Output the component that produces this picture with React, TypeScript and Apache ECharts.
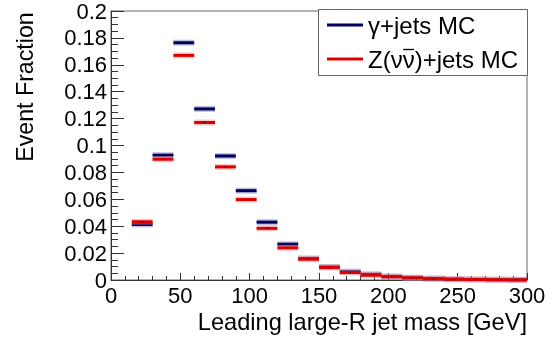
import React, { useEffect, useRef } from "react";
import * as echarts from "echarts";

const binEdges = [15, 30, 45, 60, 75, 90, 105, 120, 135, 150, 165, 180, 195, 210, 225, 240, 255, 270, 285, 300];
const gammaJets = [0.0413, 0.0928, 0.1764, 0.1272, 0.0922, 0.0664, 0.043, 0.0266, 0.016, 0.0096, 0.0062, 0.0042, 0.0026, 0.0017, 0.001, 0.0006, 0.0004, 0.0002, 0.0001];
const zvvJets = [0.0433, 0.0898, 0.167, 0.1171, 0.0841, 0.0598, 0.0384, 0.0239, 0.0155, 0.0094, 0.0056, 0.0036, 0.0024, 0.0016, 0.001, 0.0006, 0.0004, 0.0002, 0.0001];
const seriesNames = ["γ+jets MC", "Z(νν)+jets MC"];
const xTitle = "Leading large-R jet mass [GeV]";
const yTitle = "Event Fraction";

const FONT = "Liberation Sans, Arial, Helvetica, sans-serif";

function makeData(vals: number[]) {
  return vals.map((v, i) => [binEdges[i], binEdges[i + 1], v]);
}

function makeRender(color: string, band: string) {
  return (params: any, api: any) => {
    const x0 = api.value(0);
    const x1 = api.value(1);
    const v = api.value(2);
    const s = api.coord([x0, v]);
    const e = api.coord([x1, v]);
    const mid = (s[0] + e[0]) / 2;
    return {
      type: "group",
      children: [
        {
          type: "rect",
          shape: { x: s[0], y: s[1] - 3, width: e[0] - s[0], height: 6 },
          style: { fill: band, opacity: 0.45 },
        },
        {
          type: "line",
          shape: { x1: s[0], y1: s[1], x2: e[0], y2: e[1] },
          style: { stroke: color, lineWidth: 3 },
        },
        {
          type: "rect",
          shape: { x: mid - 0.5, y: s[1] - 0.5, width: 1, height: 1 },
          style: { fill: "#000" },
        },
      ],
    };
  };
}

function textWidth(t: string, size: number) {
  const c = document.createElement("canvas").getContext("2d");
  if (!c) return t.length * size * 0.55;
  c.font = `${size}px "Liberation Sans"`;
  return c.measureText(t).width;
}

export default function App() {
  const ref = useRef<HTMLDivElement>(null);
  useEffect(() => {
    if (!ref.current) return;
    const chart = echarts.init(ref.current, null, { renderer: "svg" });
    const blue = "#00005e";
    const red = "#dd0000";
    const legX = 327;
    const legTextX = 368;
    const legY = [25, 59];
    const legFont = 24;
    const ovStart = legTextX + textWidth("Z(ν", legFont);
    const ovEnd = legTextX + textWidth("Z(νν", legFont);
    chart.setOption({
      animation: false,
      textStyle: { fontFamily: FONT },
      grid: {
        left: 111,
        right: 29,
        top: 9,
        bottom: 65,
        show: true,
        borderColor: "#666",
        borderWidth: 1,
        backgroundColor: "transparent",
      },
      xAxis: {
        type: "value",
        min: 0,
        max: 300,
        interval: 50,
        axisLine: { show: true, onZero: false, lineStyle: { color: "#333", width: 1 } },
        axisTick: { show: true, inside: true, length: 7, lineStyle: { color: "#333" } },
        minorTick: { show: true, splitNumber: 5, length: 4, lineStyle: { color: "#333" } },
        splitLine: { show: false },
        axisLabel: { color: "#000", fontSize: 22, fontFamily: FONT, margin: 4, showMinLabel: true, showMaxLabel: true },
      },
      yAxis: {
        type: "value",
        min: 0,
        max: 0.2,
        interval: 0.02,
        axisLine: { show: true, onZero: false, lineStyle: { color: "#333", width: 1 } },
        axisTick: { show: true, inside: true, length: 13, lineStyle: { color: "#333" } },
        minorTick: { show: true, splitNumber: 4, length: 7, lineStyle: { color: "#333" } },
        splitLine: { show: false },
        axisLabel: {
          color: "#000",
          fontSize: 22,
          fontFamily: FONT,
          margin: 4,
          formatter: (v: number) => String(Number(v.toFixed(3))),
        },
      },
      graphic: [
        {
          type: "rect",
          z: 0,
          shape: { x: 318.5, y: 9.5, width: 209, height: 66 },
          style: { fill: "#fff", stroke: "#666", lineWidth: 1 },
        },
        {
          type: "line",
          shape: { x1: legX, y1: legY[0], x2: legX + 36, y2: legY[0] },
          style: { stroke: blue, lineWidth: 3 },
        },
        {
          type: "text",
          x: legTextX,
          y: legY[0],
          style: { text: seriesNames[0], fontSize: legFont, fontFamily: FONT, fill: "#000", textAlign: "left", textVerticalAlign: "middle" },
        },
        {
          type: "line",
          shape: { x1: legX, y1: legY[1], x2: legX + 36, y2: legY[1] },
          style: { stroke: red, lineWidth: 3 },
        },
        {
          type: "text",
          x: legTextX,
          y: legY[1],
          style: { text: seriesNames[1], fontSize: legFont, fontFamily: FONT, fill: "#000", textAlign: "left", textVerticalAlign: "middle" },
        },
        {
          type: "line",
          shape: { x1: ovStart + 0.5, y1: 49.5, x2: ovEnd - 0.5, y2: 49.5 },
          style: { stroke: "#000", lineWidth: 1.3 },
        },
        {
          type: "text",
          x: 527,
          y: 322,
          style: { text: xTitle, fontSize: 23.6, fontFamily: FONT, fill: "#000", textAlign: "right", textVerticalAlign: "middle" },
        },
        {
          type: "text",
          x: 25,
          y: 87,
          rotation: Math.PI / 2,
          style: { text: yTitle, fontSize: 23.2, fontFamily: FONT, fill: "#000", textAlign: "center", textVerticalAlign: "middle" },
        },
      ],
      series: [
        {
          name: seriesNames[0],
          type: "custom",
          itemStyle: { color: blue },
          renderItem: makeRender(blue, "#7070b8"),
          encode: { x: [0, 1], y: 2 },
          data: makeData(gammaJets),
        },
        {
          name: seriesNames[1],
          type: "custom",
          itemStyle: { color: red },
          renderItem: makeRender(red, "#f08888"),
          encode: { x: [0, 1], y: 2 },
          data: makeData(zvvJets),
        },
      ],
    });
    return () => chart.dispose();
  }, []);
  return <div ref={ref} style={{ position: "fixed", left: 0, top: 0, width: 556, height: 345 }} />;
}
